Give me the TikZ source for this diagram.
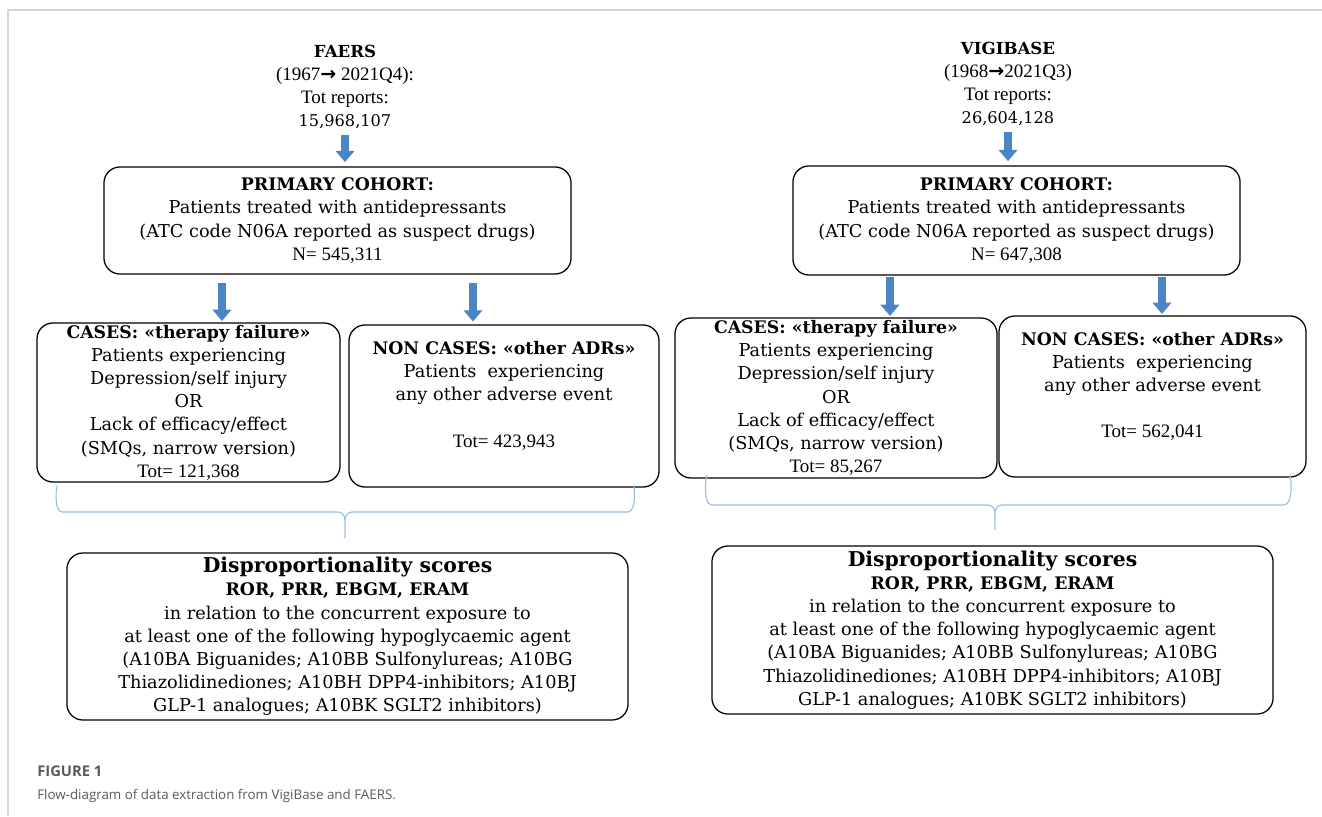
\documentclass[tikz,border=0pt]{standalone}
\usepackage{fontspec}
\setmainfont{DejaVu Serif}
\newfontfamily\tnr{Liberation Serif}
\newfontfamily\capfont{Open Sans}
\newfontfamily\arrowfont{DejaVu Sans}
\usetikzlibrary{positioning, calc, arrows.meta}
\definecolor{arrowblue}{RGB}{74,134,198}
\definecolor{bracecol}{RGB}{150,190,230}
\definecolor{framegray}{RGB}{214,214,214}
\definecolor{capgray}{RGB}{90,90,90}
\newcommand{\tn}[1]{{\tnr\fontsize{13.5}{16.5}\selectfont #1}}
\newcommand{\hd}[1]{{\fontsize{12.3}{16.5}\selectfont\textbf{#1}}}
\newcommand{\rarr}{{\arrowfont\bfseries →}}

\begin{document}
\begin{tikzpicture}[
    x=0.025cm, y=-0.025cm,
    box/.style={rectangle, draw, rounded corners=0.4cm, line width=0.9pt, align=center, inner sep=0pt, font=\fontsize{12.6}{16.5}\selectfont},
    head/.style={align=center, inner sep=0pt, font=\fontsize{11.5}{16.5}\selectfont},
    bluearrow/.style={-{Triangle[width=13pt,length=8pt]}, line width=5pt, arrowblue},
    brace/.style={bracecol, line width=0.8pt}
]
    \useasboundingbox (0,0) rectangle (1322,816);
    \draw[framegray, line width=1.5pt] (8,816) -- (8,10) -- (1322,10);

    % FAERS side
    \node[head] (faers) at (345,87) {{\fontsize{11.8}{16.5}\selectfont\textbf{FAERS}}\\\tn{(1967\rarr\ 2021Q4):}\\\tn{Tot reports:}\\15,968,107};
    \node[box, minimum width=11.675cm, minimum height=2.675cm] (primL) at (337.5,220.5) {\hd{PRIMARY COHORT:}\\Patients treated with antidepressants\\(ATC code N06A reported as suspect drugs)\\\tn{N= 545,311}};
    \node[box, minimum width=7.575cm, minimum height=3.975cm] (casesL) at (188.5,402.5) {\hd{CASES: «therapy failure»}\\Patients experiencing\\Depression/self injury\\OR\\Lack of efficacy/effect\\(SMQs, narrow version)\\\tn{Tot= 121,368}};
    \node[box, minimum width=7.75cm, minimum height=4.05cm] (noncasesL) at (504,406) {\hd{NON CASES: «other ADRs»}\\Patients~ experiencing\\any other adverse event\\\mbox{}\\\tn{Tot= 423,943}\\\mbox{}};
    \node[box, minimum width=14.025cm, minimum height=4.175cm] (dispL) at (347.5,636.5) {{\fontsize{14.5}{18}\selectfont\textbf{Disproportionality scores}}\\\hd{ROR, PRR, EBGM, ERAM}\\in relation to the concurrent exposure to\\at least one of the following hypoglycaemic agent\\(A10BA Biguanides; A10BB Sulfonylureas; A10BG\\Thiazolidinediones; A10BH DPP4-inhibitors; A10BJ\\GLP-1 analogues; A10BK SGLT2 inhibitors)};

    % VIGIBASE side
    \node[head] (vigi) at (1008,84) {{\fontsize{11.8}{16.5}\selectfont\textbf{VIGIBASE}}\\\tn{(1968\rarr2021Q3)}\\\tn{Tot reports:}\\26,604,128};
    \node[box, minimum width=11.175cm, minimum height=2.725cm] (primR) at (1016.5,220.5) {\hd{PRIMARY COHORT:}\\Patients treated with antidepressants\\(ATC code N06A reported as suspect drugs)\\\tn{N= 647,308}};
    \node[box, minimum width=8.05cm, minimum height=4.0cm] (casesR) at (836,398) {\hd{CASES: «therapy failure»}\\Patients experiencing\\Depression/self injury\\OR\\Lack of efficacy/effect\\(SMQs, narrow version)\\\tn{Tot= 85,267}};
    \node[box, minimum width=7.675cm, minimum height=4.025cm] (noncasesR) at (1152.5,396.5) {\hd{NON CASES: «other ADRs»}\\Patients~ experiencing\\any other adverse event\\\mbox{}\\\tn{Tot= 562,041}\\\mbox{}};
    \node[box, minimum width=14.025cm, minimum height=4.2cm] (dispR) at (992.5,630) {{\fontsize{14.5}{18}\selectfont\textbf{Disproportionality scores}}\\\hd{ROR, PRR, EBGM, ERAM}\\in relation to the concurrent exposure to\\at least one of the following hypoglycaemic agent\\(A10BA Biguanides; A10BB Sulfonylureas; A10BG\\Thiazolidinediones; A10BH DPP4-inhibitors; A10BJ\\GLP-1 analogues; A10BK SGLT2 inhibitors)};

    % arrows
    \coordinate (aL1) at (222,0);
    \coordinate (aL2) at (473,0);
    \coordinate (aR1) at (890,0);
    \coordinate (aR2) at (1162,0);
    \draw[bluearrow, shorten <=4pt, shorten >=3pt] (faers.south) -- (faers.south |- primL.north);
    \draw[bluearrow, shorten <=4pt, shorten >=3pt] (vigi.south) -- (vigi.south |- primR.north);
    \draw[bluearrow, shorten <=6pt, shorten >=1pt] (primL.south -| aL1) -- (casesL.north -| aL1);
    \draw[bluearrow, shorten <=6pt, shorten >=2pt] (primL.south -| aL2) -- (noncasesL.north -| aL2);
    \draw[bluearrow, shorten <=1pt, shorten >=1pt] (primR.south -| aR1) -- (casesR.north -| aR1);
    \draw[bluearrow, shorten <=1pt, shorten >=1pt] (primR.south -| aR2) -- (noncasesR.north -| aR2);

    % braces
    \draw[brace] (57,489) to[out=90,in=180] (62,512) -- (338,512) to[out=0,in=90] (345,520) -- (345,538);
    \draw[brace] (345,520) to[out=90,in=180] (352,512) -- (628,512) to[out=0,in=90] (634,489);
    \draw[brace] (707,478) to[out=90,in=180] (712,505) -- (988,505) to[out=0,in=90] (995,513) -- (995,530);
    \draw[brace] (995,513) to[out=90,in=180] (1002,505) -- (1284,505) to[out=0,in=90] (1290,478);

    % caption
    \node[anchor=base west, inner sep=0pt, text=capgray, font=\capfont\bfseries\fontsize{10.5}{12}\selectfont] (figlabel) at (37,776) {FIGURE 1};
    \node[anchor=base west, inner sep=0pt, text=capgray, font=\capfont\fontsize{9.5}{12}\selectfont] (figcaption) at (37,799) {Flow-diagram of data extraction from VigiBase and FAERS.};
\end{tikzpicture}
\end{document}
